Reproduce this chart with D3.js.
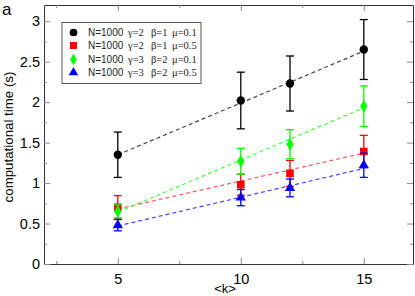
<!DOCTYPE html>
<html>
<head>
<meta charset="utf-8">
<script src="https://d3js.org/d3.v7.min.js"></script>
<style>
body { margin: 0; background: #fff; }
.tick line { stroke: #888; }
.domain { stroke: #333; }
</style>
</head>
<body>
<svg id="chart" width="415" height="296"></svg>
<script>
// <k> values measured
var kValues = [5, 10, 12, 15];

// computational time (s), one array per parameter set
var timeG2B1Mu01 = [1.35, 2.02, 2.23, 2.65];
var errG2B1Mu01  = [0.28, 0.35, 0.34, 0.37];
var timeG2B1Mu05 = [0.70, 0.98, 1.12, 1.39];
var errG2B1Mu05  = [0.145, 0.13, 0.16, 0.20];
var timeG3B2Mu01 = [0.65, 1.27, 1.48, 1.95];
var errG3B2Mu01  = [0.08, 0.16, 0.18, 0.25];
var timeG3B2Mu05 = [0.48, 0.82, 0.94, 1.22];
var errG3B2Mu05  = [0.07, 0.10, 0.11, 0.15];

// linear fits, value at k=5 and k=15
var fitRange = [5, 15];
var fitG2B1Mu01 = [1.35, 2.63];
var fitG2B1Mu05 = [0.68, 1.37];
var fitG3B2Mu01 = [0.64, 1.93];
var fitG3B2Mu05 = [0.47, 1.18];

var xTicks = [5, 10, 15];
var yTicks = [0, 0.5, 1, 1.5, 2, 2.5, 3];

var series = [
  {g: "2", b: "1", mu: "0.1", y: timeG2B1Mu01, e: errG2B1Mu01, fit: fitG2B1Mu01, color: "#000000", fitColor: "#444", sym: d3.symbolCircle, size: 55},
  {g: "2", b: "1", mu: "0.5", y: timeG2B1Mu05, e: errG2B1Mu05, fit: fitG2B1Mu05, color: "#ff0000", fitColor: "#ff5555", sym: d3.symbolSquare, size: 58},
  {g: "3", b: "2", mu: "0.1", y: timeG3B2Mu01, e: errG3B2Mu01, fit: fitG3B2Mu01, color: "#00ff00", fitColor: "#44ff44", sym: d3.symbolDiamond, size: 46},
  {g: "3", b: "2", mu: "0.5", y: timeG3B2Mu05, e: errG3B2Mu05, fit: fitG3B2Mu05, color: "#0000ff", fitColor: "#4444ff", sym: d3.symbolTriangle, size: 46}
];

var margin = {top: 5, right: 2, bottom: 32, left: 44},
    width = 415 - margin.left - margin.right,
    height = 296 - margin.top - margin.bottom;

var svg = d3.select("#chart");
var g = svg.append("g")
    .attr("transform", "translate(" + margin.left + "," + margin.top + ")");

var x = d3.scaleLinear().domain([2, 17]).range([0, width]);
var y = d3.scaleLinear().domain([0, 3.2]).range([height, 0]);

var minorX = d3.range(2.5, 17, 2.5).filter(function(d) { return xTicks.indexOf(d) < 0; });
var minorY = d3.range(0.25, 3.2, 0.5);

function styleAxis(sel) {
  sel.selectAll("text").attr("font-family", "Liberation Sans, Arial, sans-serif").attr("font-size", 14.5).attr("fill", "#000");
}

// bottom axis
g.append("g").attr("transform", "translate(0," + height + ")")
  .call(d3.axisBottom(x).tickValues(xTicks).tickSize(-6).tickPadding(10).tickSizeOuter(0))
  .call(styleAxis);
g.append("g").attr("transform", "translate(0," + height + ")")
  .call(d3.axisBottom(x).tickValues(minorX).tickSize(-3).tickFormat("").tickSizeOuter(0))
  .call(function(s) { s.select(".domain").remove(); });
// top axis
g.append("g")
  .call(d3.axisTop(x).tickValues(xTicks).tickSize(-6).tickFormat("").tickSizeOuter(0));
g.append("g")
  .call(d3.axisTop(x).tickValues(minorX).tickSize(-3).tickFormat("").tickSizeOuter(0))
  .call(function(s) { s.select(".domain").remove(); });
// left axis
g.append("g")
  .call(d3.axisLeft(y).tickValues(yTicks).tickSize(-6).tickPadding(4).tickSizeOuter(0).tickFormat(d3.format("")))
  .call(styleAxis);
g.append("g")
  .call(d3.axisLeft(y).tickValues(minorY).tickSize(-3).tickFormat("").tickSizeOuter(0))
  .call(function(s) { s.select(".domain").remove(); });
// right axis
g.append("g").attr("transform", "translate(" + width + ",0)")
  .call(d3.axisRight(y).tickValues(yTicks).tickSize(-6).tickFormat("").tickSizeOuter(0));
g.append("g").attr("transform", "translate(" + width + ",0)")
  .call(d3.axisRight(y).tickValues(minorY).tickSize(-3).tickFormat("").tickSizeOuter(0))
  .call(function(s) { s.select(".domain").remove(); });

// fit lines
series.forEach(function(s) {
  g.append("line")
    .attr("x1", x(fitRange[0])).attr("y1", y(s.fit[0]))
    .attr("x2", x(fitRange[1])).attr("y2", y(s.fit[1]))
    .attr("stroke", s.fitColor).attr("stroke-width", 1.2)
    .attr("stroke-dasharray", "4,3");
});

// error bars and markers
series.forEach(function(s) {
  var pts = kValues.map(function(k, i) { return {k: k, v: s.y[i], e: s.e[i]}; });
  var eb = g.append("g").attr("stroke", s.color).attr("stroke-width", 1.3);
  eb.selectAll(".v").data(pts).enter().append("line")
    .attr("x1", function(d) { return x(d.k); }).attr("x2", function(d) { return x(d.k); })
    .attr("y1", function(d) { return y(d.v - d.e); }).attr("y2", function(d) { return y(d.v + d.e); });
  [-1, 1].forEach(function(sgn) {
    eb.selectAll(".c" + sgn).data(pts).enter().append("line")
      .attr("x1", function(d) { return x(d.k) - 4; }).attr("x2", function(d) { return x(d.k) + 4; })
      .attr("y1", function(d) { return y(d.v + sgn * d.e); }).attr("y2", function(d) { return y(d.v + sgn * d.e); });
  });
  g.selectAll(null).data(pts).enter().append("path")
    .attr("d", d3.symbol().type(s.sym).size(s.size))
    .attr("transform", function(d) { return "translate(" + x(d.k) + "," + y(d.v) + ")"; })
    .attr("fill", s.color);
});

// legend
var lg = g.append("g").attr("transform", "translate(18,17.5)");
lg.append("rect").attr("width", 139).attr("height", 61)
  .attr("fill", "#fff").attr("stroke", "#555").attr("stroke-width", 1);
var rowY = [10, 23, 37, 50];
series.forEach(function(s, i) {
  var r = lg.append("g").attr("transform", "translate(0," + rowY[i] + ")");
  r.append("path").attr("d", d3.symbol().type(s.sym).size(s.size * 0.85)).attr("transform", "translate(11.5,0)").attr("fill", s.color);
  r.append("text").attr("x", 26).attr("y", 3.5).attr("fill", "#222")
    .attr("font-family", "Liberation Sans, Arial, sans-serif").attr("font-size", 10).text("N=1000");
  var t = r.append("text").attr("y", 3.5).attr("fill", "#222")
    .attr("font-family", "Liberation Serif, Times New Roman, serif").attr("font-size", 10.5);
  t.append("tspan").attr("x", 66).text("\u03b3=" + s.g);
  t.append("tspan").attr("x", 89).text("\u03b2=" + s.b);
  t.append("tspan").attr("x", 110).text("\u03bc=" + s.mu);
});

// labels
svg.append("text").attr("transform", "translate(13,137) rotate(-90)")
  .attr("text-anchor", "middle").attr("font-family", "Liberation Sans, Arial, sans-serif")
  .attr("font-size", 13.3).text("computational time (s)");
svg.append("text").attr("x", 225).attr("y", 293)
  .attr("text-anchor", "middle").attr("font-family", "Liberation Sans, Arial, sans-serif")
  .attr("font-size", 13).text("<k>");
svg.append("text").attr("x", 2).attr("y", 15)
  .attr("font-family", "Liberation Sans, Arial, sans-serif")
  .attr("font-size", 17).text("a");
</script>
</body>
</html>
